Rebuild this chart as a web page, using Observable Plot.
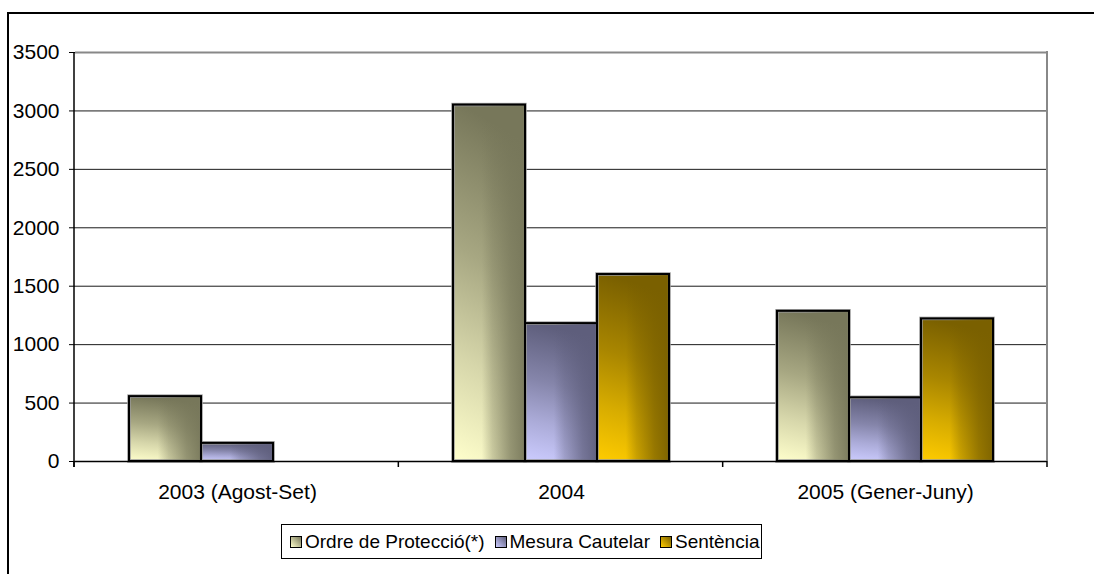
<!DOCTYPE html>
<html><head><meta charset="utf-8">
<script src="https://cdn.jsdelivr.net/npm/d3@7"></script>
<script src="https://cdn.jsdelivr.net/npm/@observablehq/plot@0.6"></script>
<style>
html,body{margin:0;padding:0;background:#fff;}
body{font-family:"Liberation Sans",Arial,sans-serif;}
#wrap{position:relative;width:1094px;height:574px;overflow:hidden;background:#fff;}
#border{position:absolute;left:7px;top:12px;width:1200px;height:700px;border:2px solid #000;box-sizing:border-box;}
#chart{position:absolute;left:0;top:0;}
#legend{position:absolute;left:281px;top:524px;width:481px;height:35px;border:1px solid #000;box-sizing:border-box;background:#fff;display:flex;align-items:center;padding-left:8px;font-size:19px;color:#000;white-space:nowrap;}
.item{display:flex;align-items:center;margin-right:10px;}
.sw{width:10px;height:10px;border:1.5px solid #000;margin-right:3px;box-sizing:content-box;}
</style>
</head><body>
<div id="wrap"><div id="border"></div><div id="chart"></div><div id="legend"></div></div>
<script>
const categories = ["2003 (Agost-Set)", "2004", "2005 (Gener-Juny)"];
const seriesNames = ["Ordre de Protecció(*)", "Mesura Cautelar", "Sentència"];
const ordreValues = [555, 3050, 1285];
const mesuraValues = [155, 1180, 545];
const sentenciaValues = [0, 1600, 1220];
const yTicks = [0, 500, 1000, 1500, 2000, 2500, 3000, 3500];

const gradientIds = ["gOrdre", "gMesura", "gSentencia"];
const shadeIds = ["hOrdre", "hMesura", "hSentencia"];
const lightColors = ["#FFFFCC", "#CCCCFF", "#FFCC00"];
const darkColors = ["#77775A", "#5E5E7C", "#7A6000"];

const valuesBySeries = [ordreValues, mesuraValues, sentenciaValues];
const rows = [];
seriesNames.forEach((s, si) => categories.forEach((c, ci) =>
  rows.push({category: c, series: s, value: valuesBySeries[si][ci], si})));

const yMax = yTicks[yTicks.length - 1];

const plot = Plot.plot({
  width: 1094, height: 574,
  marginLeft: 74, marginRight: 47, marginTop: 52, marginBottom: 113,
  style: {fontFamily: "'Liberation Sans', Arial, sans-serif", fontSize: "21px", color: "#000", background: "transparent", overflow: "visible"},
  fx: {domain: categories, padding: 0, label: null},
  x: {domain: seriesNames, paddingInner: 0, paddingOuter: 0.75, axis: null},
  y: {domain: [0, yMax], label: null},
  marks: [
    Plot.ruleY(yTicks.filter(t => t > 0 && t < yMax), {stroke: "#1a1a1a", strokeWidth: 1}),
    Plot.ruleY([yMax], {stroke: "#888", strokeWidth: 2}),
    ...seriesNames.map((s, si) => Plot.barY(rows.filter(r => r.si === si && r.value > 0), {
      fx: "category", x: "series", y: "value",
      fill: `url(#${gradientIds[si]})`, stroke: "#999", strokeWidth: 3.5
    })),
    ...seriesNames.map((s, si) => Plot.barY(rows.filter(r => r.si === si && r.value > 0), {
      fx: "category", x: "series", y: "value",
      fill: `url(#${shadeIds[si]})`, stroke: "#000", strokeWidth: 2
    })),
    Plot.ruleY([0], {stroke: "#000", strokeWidth: 1.5}),
    Plot.axisY({ticks: yTicks, tickSize: 6, tickPadding: 10, tickFormat: d => String(d), label: null, fontSize: 21}),
    Plot.axisFx({anchor: "bottom", tickSize: 0, tickPadding: 23, label: null, fontSize: 21})
  ]
});

const svg = d3.select(plot);
const defs = svg.insert("defs", ":first-child");
gradientIds.forEach((id, i) => {
  const interp = d3.interpolateRgb(lightColors[i], darkColors[i]);
  const g = defs.append("linearGradient").attr("id", id)
    .attr("x1", 0).attr("y1", 1).attr("x2", 0.12).attr("y2", 0);
  [[0, 0], [0.3, 0.3], [0.6, 0.65], [1, 1]].forEach(([o, t]) =>
    g.append("stop").attr("offset", o).attr("stop-color", interp(t)));
  const h = defs.append("linearGradient").attr("id", shadeIds[i])
    .attr("x1", 0).attr("y1", 0).attr("x2", 1).attr("y2", 0);
  [[0, 0], [0.4, 0], [0.55, 0.35], [0.8, 0.75], [1, 0.95]].forEach(([o, a]) =>
    h.append("stop").attr("offset", o).attr("stop-color", darkColors[i]).attr("stop-opacity", a));
});

const fxs = plot.scale("fx"), ys = plot.scale("y");
const band = d3.scaleBand(fxs.domain, fxs.range)
  .paddingInner(fxs.paddingInner ?? 0).paddingOuter(fxs.paddingOuter ?? 0).align(fxs.align ?? 0.5);
const edges = categories.map(c => band(c)).concat([band(categories[categories.length - 1]) + band.bandwidth()]);
const y0 = ys.apply(0), yTop = ys.apply(yMax);
const g = svg.append("g");
g.append("line").attr("x1", edges[edges.length - 1]).attr("x2", edges[edges.length - 1])
  .attr("y1", yTop - 1).attr("y2", y0).attr("stroke", "#888").attr("stroke-width", 2);
g.append("line").attr("x1", edges[0]).attr("x2", edges[0])
  .attr("y1", yTop).attr("y2", y0 + 6).attr("stroke", "#000").attr("stroke-width", 1.5);
edges.forEach(e => g.append("line").attr("x1", e).attr("x2", e)
  .attr("y1", y0).attr("y2", y0 + 6).attr("stroke", "#000").attr("stroke-width", 1.5));

document.getElementById("chart").appendChild(plot);

const legend = d3.select("#legend");
seriesNames.forEach((s, i) => {
  const it = legend.append("div").attr("class", "item");
  it.append("div").attr("class", "sw")
    .style("background", `linear-gradient(45deg, ${lightColors[i]}, ${darkColors[i]})`);
  it.append("span").text(s);
});
</script>
</body></html>
